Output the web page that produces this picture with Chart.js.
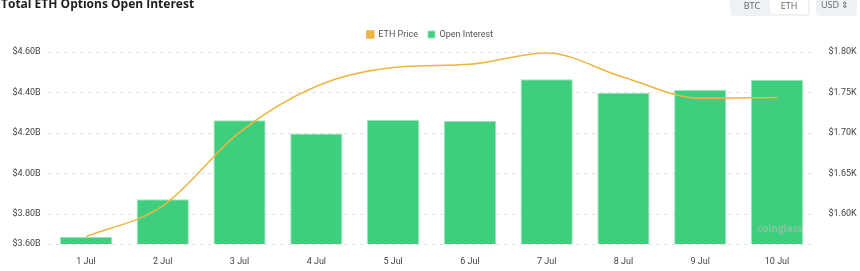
<!DOCTYPE html>
<html>
<head>
<meta charset="utf-8">
<script src="https://cdn.jsdelivr.net/npm/chart.js@4.4.1/dist/chart.umd.min.js"></script>
<style>
  html, body { margin: 0; padding: 0; background: #fff; }
  #wrap { position: relative; width: 860px; height: 271px; overflow: hidden; font-family: "Open Sans", "Noto Sans", sans-serif; }
  #chart { position: absolute; left: 0; top: 0; }
  .title { position: absolute; left: 1px; top: -5px; font-size: 12px; font-weight: 700; color: #1e1e1e; white-space: nowrap; }
  .switch { position: absolute; left: 730px; top: -4px; width: 80px; height: 20px; background: #eef1f5; border-radius: 4px; }
  .switch span { position: absolute; top: 2px; height: 16px; line-height: 16px; font-size: 9px; color: #666; text-align: center; }
  .switch .on { background: #fff; border-radius: 3px; }
  .sel { position: absolute; left: 816px; top: -4px; width: 41px; height: 20px; background: #eef1f5; border-radius: 4px; font-size: 9px; color: #666; line-height: 18px; }
  .mark { position: absolute; left: 757px; top: 221px; font-size: 10px; font-weight: 700; color: rgba(190,190,190,0.55); }
</style>
</head>
<body>
<div id="wrap">
  <canvas id="chart" width="860" height="271"></canvas>
  <div class="title">Total ETH Options Open Interest</div>
  <div class="switch"><span style="left:4px;width:36px">BTC</span><span class="on" style="left:40px;width:38px">ETH</span></div>
  <div class="sel"><span style="margin-left:5px">USD ⇕</span></div>
  <div class="mark">coinglass</div>
</div>
<script>
var days = ["1 Jul","2 Jul","3 Jul","4 Jul","5 Jul","6 Jul","7 Jul","8 Jul","9 Jul","10 Jul"];
// open interest, billions USD
var openInterest = [3.686, 3.873, 4.264, 4.198, 4.265, 4.260, 4.466, 4.400, 4.415, 4.464];
// eth price, USD
var ethPrice = [1572, 1610, 1701, 1758, 1781, 1785, 1799, 1769, 1743, 1744];

var leftTicks = [3.652, 3.8, 4.0, 4.2, 4.4, 4.6];
var leftLabels = ["$3.60B","$3.80B","$4.00B","$4.20B","$4.40B","$4.60B"];
var rightTicks = [1600, 1650, 1700, 1750, 1800];
var rightLabels = ["$1.60K","$1.65K","$1.70K","$1.75K","$1.80K"];

var tickFont = {family: "Roboto, 'Liberation Sans', sans-serif", size: 9};

// keep the legend block a fixed height so the plot starts where the original does
var legendHeight = {
    id: 'legendHeight',
    afterInit: function(chart) {
        var fit = chart.legend.fit;
        chart.legend.fit = function() { fit.call(this); this.height = 32.2; };
    }
};

var config = {
    type: 'bar',
    data: {
        labels: days,
        datasets: [{
            type: 'line',
            label: 'ETH Price',
            data: ethPrice,
            yAxisID: 'yr',
            borderColor: '#eeb541',
            backgroundColor: '#eeb541',
            borderWidth: 1.5,
            pointRadius: 0,
            cubicInterpolationMode: 'monotone',
            order: 0
        }, {
            label: 'Open Interest',
            data: openInterest,
            yAxisID: 'y',
            backgroundColor: '#3fcd7e',
            borderColor: '#9be4bb',
            borderWidth: 1,
            barPercentage: 0.68,
            categoryPercentage: 1,
            order: 1
        }]
    },
    plugins: [legendHeight],
    options: {
        responsive: false,
        animation: false,
        layout: {padding: {top: 20, left: 0, right: 0, bottom: 0}},
        plugins: {
            tooltip: {enabled: false},
            legend: {
                position: 'top',
                labels: {boxWidth: 7, boxHeight: 7, padding: 10, color: '#555', font: tickFont}
            }
        },
        scales: {
            x: {
                grid: {display: false},
                border: {display: false},
                ticks: {color: '#444', font: tickFont, padding: 4, maxRotation: 0},
                afterFit: function(s) { s.height = 27; }
            },
            y: {
                position: 'left',
                min: 3.652, max: 4.6,
                afterBuildTicks: function(s) { s.ticks = leftTicks.map(function(v){ return {value: v}; }); },
                ticks: {
                    color: '#444', font: tickFont, padding: 7,
                    callback: function(v, i) { return leftLabels[i]; }
                },
                grid: {color: '#e4e4e4', drawTicks: false},
                border: {display: false, dash: [4, 4]},
                afterFit: function(s) { s.width = 47.6; }
            },
            yr: {
                position: 'right',
                min: 1563, max: 1800,
                afterBuildTicks: function(s) { s.ticks = rightTicks.map(function(v){ return {value: v}; }); },
                ticks: {
                    color: '#444', font: tickFont, padding: 5,
                    callback: function(v, i) { return rightLabels[i]; }
                },
                grid: {display: false},
                border: {display: false},
                afterFit: function(s) { s.width = 44.6; }
            }
        }
    }
};

window.onload = function() {
    var ctx = document.getElementById("chart").getContext("2d");
    window.myChart = new Chart(ctx, config);
};
</script>
</body>
</html>
